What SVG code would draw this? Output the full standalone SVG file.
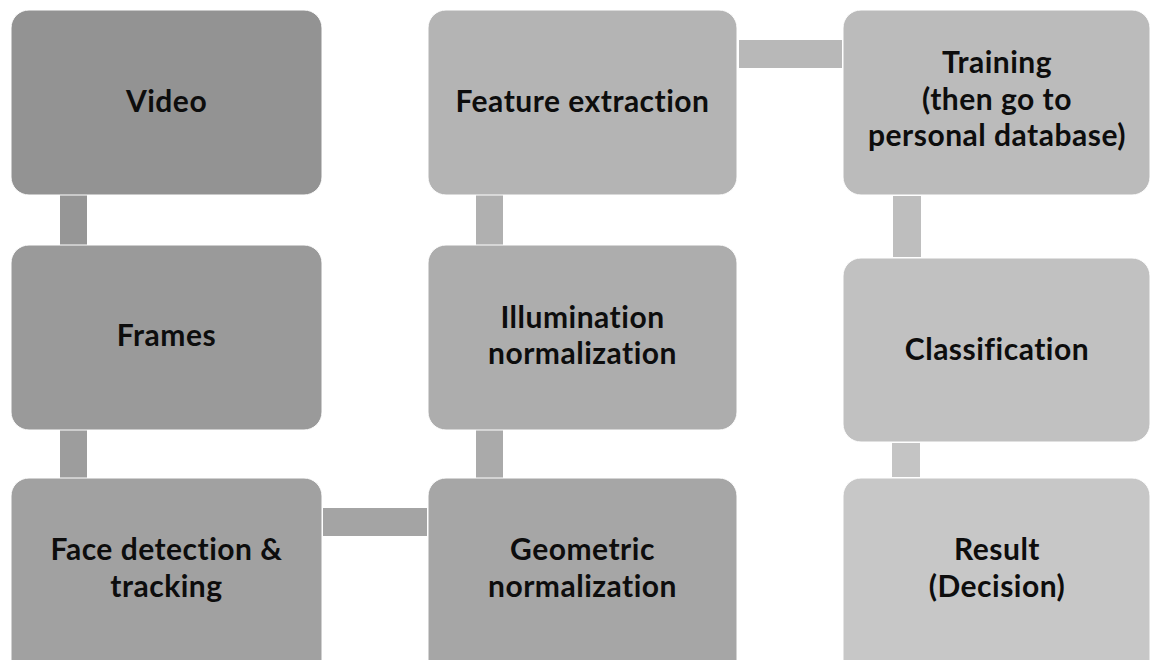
<svg xmlns="http://www.w3.org/2000/svg" width="1150" height="660" viewBox="0 0 1150 660">
  <style>
    .box { stroke: #ffffff; stroke-width: 1; }
    .link { stroke: none; }
    .label { font-family: "Lato", "Liberation Sans", sans-serif; font-weight: 700; font-size: 30px; letter-spacing: 0.5px; font-variant-ligatures: none; fill: #0d0d0d; text-anchor: middle; }
  </style>
  <rect x="0" y="0" width="1150" height="660" fill="#ffffff"/>

  <!-- connectors between the process steps -->
  <g id="connectors">
    <rect class="link" x="60" y="195" width="27" height="50" fill="#969696"/>
    <rect class="link" x="60" y="430" width="27" height="48" fill="#9d9d9d"/>
    <rect class="link" x="323" y="508" width="104" height="28" fill="#a4a4a4"/>
    <rect class="link" x="476" y="430" width="27" height="48" fill="#aaaaaa"/>
    <rect class="link" x="476" y="195" width="27" height="50" fill="#b0b0b0"/>
    <rect class="link" x="739" y="40" width="103" height="28" fill="#b8b8b8"/>
    <rect class="link" x="893" y="196" width="28" height="61" fill="#bebebe"/>
    <rect class="link" x="892" y="443" width="28" height="34" fill="#c4c4c4"/>
  </g>

  <g id="video">
    <rect class="box" x="11" y="10" width="311" height="185" rx="18" fill="#939393"/>
    <text class="label" x="166.5" y="112">Video</text>
  </g>

  <g id="frames">
    <rect class="box" x="11" y="245" width="311" height="185" rx="18" fill="#9a9a9a"/>
    <text class="label" x="166.5" y="346">Frames</text>
  </g>

  <g id="face-detection">
    <rect class="box" x="11" y="478" width="311" height="200" rx="18" fill="#a1a1a1"/>
    <text class="label" x="166.5" y="560">Face detection &amp;</text>
    <text class="label" x="166.5" y="597">tracking</text>
  </g>

  <g id="geometric-normalization">
    <rect class="box" x="428" y="478" width="309" height="200" rx="18" fill="#a6a6a6"/>
    <text class="label" x="582.5" y="560">Geometric</text>
    <text class="label" x="582.5" y="597">normalization</text>
  </g>

  <g id="illumination-normalization">
    <rect class="box" x="428" y="245" width="309" height="185" rx="18" fill="#adadad"/>
    <text class="label" x="582.5" y="328">Illumination</text>
    <text class="label" x="582.5" y="364">normalization</text>
  </g>

  <g id="feature-extraction">
    <rect class="box" x="428" y="10" width="309" height="185" rx="18" fill="#b4b4b4"/>
    <text class="label" x="582.5" y="112">Feature extraction</text>
  </g>

  <g id="training">
    <rect class="box" x="843" y="10" width="307" height="185" rx="18" fill="#bbbbbb"/>
    <text class="label" x="997" y="73">Training</text>
    <text class="label" x="997" y="110">(then go to</text>
    <text class="label" x="997" y="146">personal database)</text>
  </g>

  <g id="classification">
    <rect class="box" x="843" y="258" width="307" height="184" rx="18" fill="#c1c1c1"/>
    <text class="label" x="997" y="360">Classification</text>
  </g>

  <g id="result">
    <rect class="box" x="843" y="478" width="307" height="200" rx="18" fill="#c7c7c7"/>
    <text class="label" x="997" y="560">Result</text>
    <text class="label" x="997" y="597">(Decision)</text>
  </g>
</svg>
